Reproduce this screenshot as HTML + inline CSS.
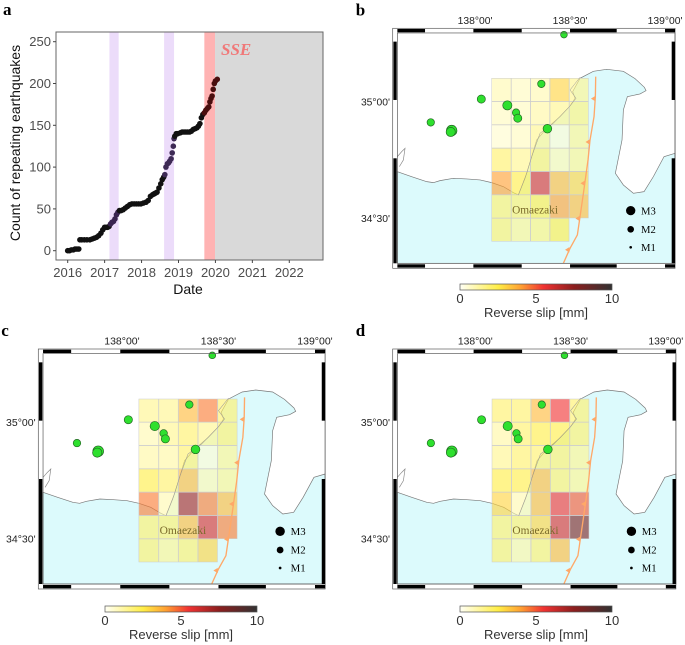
<!DOCTYPE html>
<html><head><meta charset="utf-8"><style>
html,body{margin:0;padding:0;background:#fff;}
svg{display:block;font-family:"Liberation Sans",sans-serif;}
</style></head><body>
<svg id="fig" width="685" height="645" viewBox="0 0 685 645" xmlns="http://www.w3.org/2000/svg">
<g id="pa"></g>
<g id="pb"></g>
<g id="pc"></g>
<g id="pd"></g>
</svg>
<script>
// ---- Panel a data ----
const dates=[2016.0,2016.05,2016.1,2016.15,2016.2,2016.25,2016.3,2016.33,2016.38,2016.45,2016.52,2016.6,2016.66,2016.72,2016.78,2016.84,2016.9,2016.95,2017.0,2017.04,2017.08,2017.12,2017.16,2017.2,2017.24,2017.28,2017.32,2017.36,2017.4,2017.45,2017.5,2017.56,2017.62,2017.68,2017.74,2017.8,2017.86,2017.92,2017.98,2018.05,2018.12,2018.18,2018.24,2018.3,2018.34,2018.38,2018.42,2018.47,2018.52,2018.56,2018.6,2018.63,2018.66,2018.7,2018.73,2018.76,2018.8,2018.83,2018.86,2018.88,2018.9,2018.94,2018.98,2019.05,2019.1,2019.15,2019.2,2019.25,2019.3,2019.35,2019.4,2019.45,2019.5,2019.54,2019.58,2019.62,2019.66,2019.7,2019.74,2019.78,2019.82,2019.85,2019.88,2019.91,2019.94,2019.97,2020.0,2020.05];
const counts=[0,0,1,1,2,2,2,13,13,13,13,13,14,15,16,18,21,25,28,28,28,29,32,34,35,38,43,46,48,48,49,51,53,55,56,56,56,56,56,57,58,60,65,67,68,69,70,75,80,85,88,91,100,104,105,107,110,117,125,134,137,140,140,141,142,142,142,142,142,143,145,146,147,149,152,159,163,165,168,170,172,178,182,185,193,200,203,205];
const yTicks=[0,50,100,150,200,250];
const xTicks=[2016,2017,2018,2019,2020,2021,2022];
const shades=[[2017.13,2017.38,'#ecdcfa'],[2018.61,2018.88,'#ecdcfa'],[2019.70,2019.99,'#ffb3b3'],[2019.99,2022.92,'#d9d9d9']];

// ---- Map data (slip mm per cell, rows top->bottom, cols left->right) ----
const slipB=[[1,0.8,1,3,1.5],[0.8,0.8,1.2,1.5,1.8],[0.6,0.8,1.5,0.5,1.5],[2,1.5,2,1,1.5],[4,2.5,6,3.5,3],[2,2,2.5,4,3.5],[2,1.5,1.8,2.5]];
const slipC=[[1.5,1.5,3.5,4.5,2],[1,1.5,2,1.5,2],[1.2,1.2,2,0.5,1.5],[2.5,2,3.5,1,1.5],[4.5,1,7,4.5,3.5],[2,2,3.5,6,4.5],[2,1.5,2,3]];
const slipD=[[2,2,3.5,5.5,2],[1.2,2,2.5,2.5,2],[1.5,2,2,2,1.5],[2.5,2.5,3.5,2,1.5],[3,1,3.5,5.5,5],[2,2,3,6,8],[2,1.2,2,3.5]];
const quakeLon=[138.468,138.349,138.033,138.170,138.216,138.225,137.767,137.877,137.872,138.381];
const quakeLat=[35.287,35.076,35.011,34.984,34.953,34.929,34.911,34.876,34.870,34.884];
const quakeMag=[1.9,2.1,2.3,2.6,2.1,2.3,2.1,3.0,2.6,2.45];

const NS='http://www.w3.org/2000/svg';
function mk(tag,attrs,parent,txt){const e=document.createElementNS(NS,tag);for(const k in attrs)e.setAttribute(k,attrs[k]);if(txt!==undefined)e.textContent=txt;parent.appendChild(e);return e;}

// ===== Panel A =====
const pa=document.getElementById('pa');
const ax={x0:56,x1:323,y0:32,y1:260};
const sx=v=>67.7+(v-2016)*36.93;
const sy=v=>250.7-v*0.836;
let t=mk('text',{x:3,y:15,'font-family':'Liberation Serif,serif','font-weight':'bold','font-size':17},pa,'a');


shades.forEach((s,i)=>{
  const r=mk('rect',{x:sx(s[0]),y:ax.y0,width:sx(s[1])-sx(s[0]),height:ax.y1-ax.y0,fill:s[2]},pa);
  
  
});
t=mk('text',{x:221,y:55,'font-family':'Liberation Serif,serif','font-weight':'bold','font-style':'italic','font-size':17,fill:'#f07878'},pa,'SSE');


dates.forEach((d,i)=>{
  let col='#111';
  if(d>=2017.13&&d<=2017.38) col='#3a2450';
  if(d>=2018.61&&d<=2018.88) col='#3e2a55';
  if(d>=2019.70) col='#4a0f0f';
  const c=mk('circle',{cx:sx(d),cy:sy(counts[i]),r:2.8,fill:col},pa);
  
  
});
let fr=mk('rect',{x:ax.x0,y:ax.y0,width:ax.x1-ax.x0,height:ax.y1-ax.y0,fill:'none',stroke:'#666','stroke-width':1},pa);


yTicks.forEach(v=>{
  mk('line',{x1:ax.x0-3,x2:ax.x0,y1:sy(v),y2:sy(v),stroke:'#444'},pa);
  const l=mk('text',{x:ax.x0-5,y:sy(v)+4.5,'text-anchor':'end','font-size':13,fill:'#4d4d4d'},pa,v);
  
  
});
xTicks.forEach(v=>{
  mk('line',{x1:sx(v),x2:sx(v),y1:ax.y1,y2:ax.y1+3,stroke:'#444'},pa);
  const l=mk('text',{x:sx(v),y:277,'text-anchor':'middle','font-size':13,fill:'#4d4d4d'},pa,v);
  
  
});
t=mk('text',{x:188,y:294,'text-anchor':'middle','font-size':14,fill:'#111'},pa,'Date');


t=mk('text',{x:0,y:0,'text-anchor':'middle','font-size':14,fill:'#111',transform:'translate(20,143) rotate(-90)'},pa,'Count of repeating earthquakes');



// ===== Maps =====
const stops=[[0,[255,255,245]],[2.5,[255,238,70]],[4,[255,160,50]],[5.5,[240,50,50]],[7.5,[140,30,30]],[10,[50,50,50]]];
function cmap(v){for(let i=1;i<stops.length;i++){if(v<=stops[i][0]){const a=stops[i-1],b=stops[i],f=(v-a[0])/(b[0]-a[0]);return 'rgb('+a[1].map((c,k)=>Math.round(c+(b[1][k]-c)*f)).join(',')+')';}}return 'rgb(50,50,50)';}
const lonX=lon=>405+(lon-138)*570;
const latY=lat=>305-(lat-35)*700;
const colX=[455,514,572,630,688,746];
const rowY=[235,305,375,445,515,585,655,725];
const seaPts='172,515 215,530 260,545 280,548 300,542 340,535 380,537 420,540 455,548 490,560 520,578 535,585 555,535 572,480 590,420 620,385 660,350 690,318 705,295 698,275 720,235 760,214 800,208 850,214 885,236 913,262 918,272 900,282 862,290 850,330 846,420 836,470 826,520 850,555 880,580 912,575 940,530 972,470 1005,460 1005,790 172,790';
const trench=[[670,790],[690,745],[712,705],[720,650],[728,595],[735,545],[744,480],[750,420],[762,350],[766,290],[767,230]];

function drawMap(id,ox,oy,kx,slip,letter,cbx,cby,cbw){
  const P=document.getElementById(id);
  let lt=mk('text',{x:ox-37,y:oy-13,'font-family':'Liberation Serif,serif','font-weight':'bold','font-size':17},P,letter);
  
  
  const g=mk('g',{transform:`translate(${ox},${oy}) scale(${kx/3},${1/3}) translate(-158,-85)`},P);
  mk('rect',{x:172,y:99,width:833,height:691,fill:'#fff'},g);
  const sea=mk('polygon',{points:seaPts,fill:'#dcfafc',stroke:'#777','stroke-width':2},g);
  
  
  mk('polyline',{points:'172,470 185,455 195,445 190,480 178,500',fill:'none',stroke:'#888','stroke-width':2},g);
  slip.forEach((row,r)=>row.forEach((v,c)=>{
    const cell=mk('rect',{x:colX[c],y:rowY[r],width:colX[c+1]-colX[c]-1,height:rowY[r+1]-rowY[r]-1,fill:cmap(v),'fill-opacity':0.62,stroke:'#ccc','stroke-width':1.5},g);
    
    
  }));
  mk('polyline',{points:'535,585 560,520 575,470 600,400 640,370 690,318 708,295 690,270 720,232',fill:'none',stroke:'#999','stroke-width':1.5},g);
  const tr=mk('polyline',{points:trench.map(p=>p.join(',')).join(' '),fill:'none',stroke:'#ffa868','stroke-width':4},g);
  
  
  [0.9,2.9,4.9,6.9,8.9].forEach(k=>{const i=Math.floor(k),f=k-i,p=trench[i],q=trench[i+1];const x=p[0]+(q[0]-p[0])*f,y=p[1]+(q[1]-p[1])*f;mk('polygon',{points:`${x},${y-8} ${x},${y+8} ${x-13},${y}`,fill:'#ffa868'},g);});
  const omz=mk('text',{x:585,y:640,'text-anchor':'middle','font-family':'Liberation Serif,serif','font-size':34,fill:'#7a6a2a'},g,'Omaezaki');
  
  
  quakeLon.forEach((lo,i)=>{
    const q=mk('circle',{cx:lonX(lo),cy:latY(quakeLat[i]),r:quakeMag[i]*5.3,fill:'#2ee02e',stroke:'#226622','stroke-width':2},g);
    
    
  });
  [[3,632,14],[2,688,10],[1,742,4]].forEach(([m,y,r])=>{
    mk('circle',{cx:872,cy:y,r:r,fill:'#000'},g);
    const lt2=mk('text',{x:903,y:y+11,'font-family':'Liberation Serif,serif','font-size':32},g,'M'+m);
    
    
  });
  mk('rect',{x:158,y:85,width:847,height:720,fill:'none',stroke:'#555','stroke-width':2},g);
  mk('rect',{x:172,y:99,width:833,height:691,fill:'none',stroke:'#555','stroke-width':2},g);
  const segs=[[172,255],[400,545],[690,830],[975,1005]];
  segs.forEach(s=>{mk('rect',{x:s[0],y:87,width:s[1]-s[0],height:10,fill:'#000'},g);mk('rect',{x:s[0],y:793,width:s[1]-s[0],height:10,fill:'#000'},g);});
  [[125,300],[475,790]].forEach(s=>{mk('rect',{x:160,y:s[0],width:10,height:s[1]-s[0],fill:'#000'},g);mk('rect',{x:995,y:s[0],width:10,height:s[1]-s[0],fill:'#000'},g);});
  [["138°00'",405],["138°30'",690],["139°00'",975]].forEach(([s,x])=>{
    const l=mk('text',{x:x,y:72,'text-anchor':'middle','font-size':31,fill:'#222'},g,s);
    
    
  });
  [["35°00'",305],["34°30'",655]].forEach(([s,y])=>{
    const l=mk('text',{x:150,y:y+11,'text-anchor':'end','font-size':31,fill:'#222'},g,s);
    
    
  });
  const gid='cg'+letter;
  const defs=mk('defs',{},P);
  const lg=mk('linearGradient',{id:gid,x1:0,x2:1,y1:0,y2:0},defs);
  for(let v=0;v<=10;v+=0.5) mk('stop',{offset:(v/10),'stop-color':cmap(v)},lg);
  const cb=mk('rect',{x:cbx,y:cby,width:cbw,height:6,fill:`url(#${gid})`,stroke:'#555','stroke-width':0.7},P);
  
  
  [0,5,10].forEach(v=>{
    const l=mk('text',{x:cbx+cbw*v/10,y:cby+19,'text-anchor':'middle','font-size':13,fill:'#333'},P,v);
    
    
  });
  const ct=mk('text',{x:cbx+cbw/2,y:cby+33,'text-anchor':'middle','font-size':13,fill:'#333'},P,'Reverse slip [mm]');
  
  
}
drawMap('pb',392.7,28.3,1,slipB,'b',460,284,152);
drawMap('pc',38.3,349,1.016,slipC,'c',105,606,152);
drawMap('pd',392.7,349,1.003,slipD,'d',460,606,152);
</script>
</body></html>
